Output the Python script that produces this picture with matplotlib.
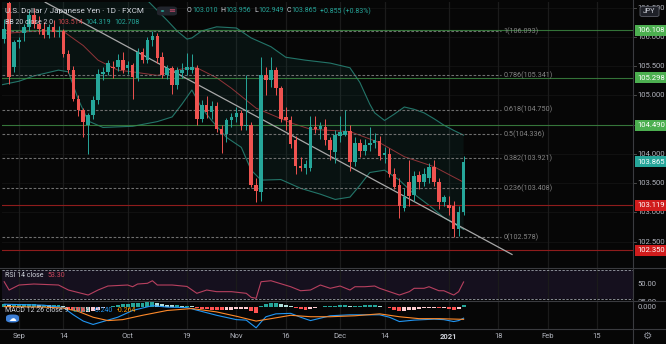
import numpy as np
import matplotlib
matplotlib.use("Agg")
import matplotlib.pyplot as plt
from matplotlib.patches import FancyBboxPatch, Circle
from matplotlib.lines import Line2D
from matplotlib.transforms import blended_transform_factory, Bbox, TransformedBbox

plt.rcParams['font.family'] = ['Roboto', 'DejaVu Sans']

# ---------------- data ----------------
bar_idx = np.arange(-3, 91)

opens = [105.97, 106.57, 105.49, 105.91, 106.06, 106.17, 106.38, 106.22, 106.14, 106.03,
         106.17, 106.08, 106.10, 105.71, 105.43, 104.94, 104.74, 104.49, 104.66, 104.92,
         105.36, 105.40, 105.49, 105.49, 105.61, 105.46, 105.51, 105.29, 105.74, 105.60,
         105.94, 106.01, 105.66, 105.34, 105.46, 105.17, 105.38, 105.43, 105.43, 105.47,
         104.60, 104.83, 104.71, 104.82, 104.43, 104.33, 104.57, 104.63, 104.70, 104.47,
         104.49, 103.46, 103.34, 105.34, 105.26, 105.43, 105.13, 104.63, 104.57, 104.23,
         103.80, 103.75, 103.75, 104.46, 104.43, 104.45, 104.23, 104.03, 104.30, 104.32,
         104.39, 103.86, 104.18, 104.05, 104.15, 104.19, 104.22, 103.98, 104.00, 103.66,
         103.46, 103.08, 103.52, 103.29, 103.63, 103.52, 103.58, 103.77, 103.52, 103.17,
         103.13, 103.10, 102.72, 103.010]
highs = [106.30, 106.62, 105.95, 106.00, 106.22, 106.45, 106.50, 106.35, 106.25, 106.22,
         106.28, 106.18, 106.14, 105.77, 105.50, 105.00, 104.78, 104.70, 104.98, 105.45,
         105.48, 105.60, 105.58, 105.71, 105.74, 105.58, 105.55, 105.80, 105.80, 106.00,
         106.093, 106.06, 105.74, 105.52, 105.50, 105.48, 105.55, 105.72, 105.70, 105.52,
         104.92, 104.98, 104.90, 104.88, 104.50, 104.62, 104.70, 104.80, 104.75, 105.34,
         104.55, 103.58, 105.65, 105.48, 105.66, 105.48, 105.16, 104.80, 104.65, 104.30,
         103.95, 103.90, 104.65, 104.65, 104.55, 104.60, 104.28, 104.40, 104.65, 104.75,
         104.50, 104.28, 104.25, 104.25, 104.45, 104.36, 104.30, 104.12, 104.10, 103.75,
         103.58, 103.42, 103.90, 103.70, 103.70, 103.75, 103.85, 103.90, 103.58, 103.30,
         103.28, 103.20, 103.10, 103.956]
lows = [105.90, 105.20, 105.40, 105.80, 105.92, 106.10, 106.15, 106.05, 105.98, 105.98,
        106.00, 106.00, 105.65, 105.38, 104.90, 104.65, 104.29, 104.00, 104.60, 104.85,
        105.26, 105.35, 105.30, 105.42, 105.38, 105.36, 104.94, 105.25, 105.55, 105.55,
        105.85, 105.55, 105.30, 105.28, 105.03, 105.10, 105.30, 105.35, 105.38, 104.50,
        104.55, 104.62, 104.60, 104.38, 104.02, 104.20, 104.45, 104.55, 104.40, 104.40,
        103.44, 103.18, 103.20, 105.00, 105.15, 105.00, 104.55, 104.40, 104.10, 103.65,
        103.70, 103.65, 103.70, 104.35, 104.25, 104.15, 103.90, 103.85, 104.20, 104.30,
        103.70, 103.80, 103.95, 103.98, 104.05, 104.10, 103.90, 103.85, 103.60, 103.40,
        102.90, 103.02, 103.10, 103.20, 103.40, 103.45, 103.50, 103.45, 103.05, 103.10,
        102.95, 102.578, 102.60, 102.949]
closes = [106.13, 105.31, 105.91, 105.95, 106.17, 106.38, 106.22, 106.14, 106.03, 106.17,
          106.08, 106.10, 105.71, 105.43, 104.94, 104.74, 104.54, 104.66, 104.92, 105.36,
          105.40, 105.55, 105.46, 105.61, 105.43, 105.52, 105.31, 105.74, 105.60, 105.94,
          106.01, 105.64, 105.34, 105.46, 105.17, 105.43, 105.43, 105.48, 105.49, 104.60,
          104.83, 104.72, 104.82, 104.43, 104.33, 104.57, 104.63, 104.70, 104.47, 104.49,
          103.46, 103.36, 105.34, 105.26, 105.43, 105.13, 104.60, 104.57, 104.17, 103.80,
          103.75, 103.82, 104.46, 104.43, 104.47, 104.23, 104.06, 104.32, 104.37, 104.39,
          103.86, 104.18, 104.05, 104.15, 104.19, 104.24, 103.97, 104.01, 103.66, 103.43,
          103.10, 103.27, 103.28, 103.62, 103.52, 103.66, 103.77, 103.52, 103.17, 103.26,
          103.08, 102.72, 103.01, 103.865]

# Bollinger Bands (20, 2)
bb_upper_idx = [-4, 5, 12, 18, 23, 26, 28, 30, 32, 34, 35, 37, 40, 44, 47, 51, 54, 58, 63,
                67, 69, 71, 72, 74, 76, 78, 80, 82, 84, 86, 88, 90]
bb_upper = [106.98, 107.00, 106.95, 106.85, 106.72, 106.62, 106.45, 106.28, 106.10, 105.96,
            105.98, 106.10, 106.17, 106.15, 105.98, 105.83, 105.65, 105.60, 105.55, 105.47,
            105.22, 104.85, 104.70, 104.57, 104.68, 104.80, 104.76, 104.70, 104.60, 104.49,
            104.40, 104.319]
bb_basis_idx = [-4, 4, 9, 13, 16, 20, 23, 28, 33, 36, 40, 43, 48, 55, 59, 63, 67, 73, 78, 84, 90]
bb_basis = [106.05, 106.10, 106.09, 105.85, 105.60, 105.43, 105.40, 105.34, 105.45, 105.47,
            105.30, 105.12, 104.78, 104.53, 104.42, 104.40, 104.38, 104.19, 103.95, 103.78,
            103.514]
bb_lower_idx = [-4, 0, 3, 8, 10, 12, 14, 17, 23, 28, 31, 33, 35, 37, 39, 42, 45, 47, 49, 53,
                57, 61, 64, 67, 69, 71, 74, 77, 80, 83, 86, 90]
bb_lower = [105.17, 105.24, 105.33, 105.43, 105.40, 104.93, 104.56, 104.45, 104.47, 104.55,
            104.63, 104.85, 105.09, 104.78, 104.57, 104.28, 104.11, 103.72, 103.55, 103.56,
            103.41, 103.31, 103.22, 103.26, 103.46, 103.68, 103.72, 103.55, 103.31, 103.12,
            102.91, 102.708]

# Fibonacci retracement levels
fib_ratios = ['1', '0.786', '0.618', '0.5', '0.382', '0.236', '0']
fib_levels = [106.093, 105.341, 104.750, 104.336, 103.921, 103.408, 102.578]
fib_end = 97.5

# Horizontal support / resistance lines
green_levels = [106.108, 105.298, 104.490]
red_levels = [103.119, 102.350]

# Descending trendline anchors (bar index, price)
trend_x = [5.3, 99.8]
trend_y = [106.59, 102.28]

# RSI 14
rsi_idx = [-3, -2, 0, 3, 8, 10, 14, 16, 18, 22, 23, 24, 26, 27, 28, 31, 34, 36, 38, 40,
           43, 46, 47, 48, 49, 51, 55, 57, 59, 61, 63, 65, 67, 68, 70, 72, 73, 75, 77, 79,
           80, 82, 83, 85, 86, 88, 89, 90]
rsi_val = [53.6, 42.0, 49.0, 50.4, 49.0, 42.0, 35.0, 42.0, 47.6, 49.0, 46.6, 50.4, 51.4,
           55.0, 49.0, 49.0, 47.0, 37.4, 42.0, 39.7, 39.7, 37.4, 31.8, 30.4, 53.6, 55.0,
           46.6, 41.0, 42.0, 49.0, 44.4, 47.6, 42.0, 46.6, 46.6, 47.6, 44.4, 39.7, 35.0,
           39.7, 44.4, 44.4, 46.6, 41.0, 41.0, 35.0, 39.7, 53.3]

# MACD 12 26 9
macd_idx = [-3, 5, 9, 11, 13, 15, 17, 20, 23, 27, 30, 34, 37, 40, 44, 46, 48, 49, 50, 52,
            55, 57, 59, 61, 63, 67, 70, 73, 75, 77, 80, 84, 86, 88, 89, 90]
macd_val = [0.05, 0.03, -0.02, -0.17, -0.30, -0.37, -0.31, -0.22, -0.08, 0.02, -0.01, -0.02,
            -0.10, -0.18, -0.27, -0.28, -0.44, -0.32, -0.21, -0.15, -0.14, -0.22, -0.29,
            -0.24, -0.19, -0.17, -0.17, -0.17, -0.22, -0.31, -0.28, -0.26, -0.27, -0.31,
            -0.29, -0.240]
signal_idx = [-3, 5, 9, 12, 15, 18, 21, 25, 30, 35, 40, 44, 48, 51, 55, 59, 63, 68, 73, 77,
              81, 85, 90]
signal_val = [0.0, -0.01, -0.03, -0.10, -0.22, -0.29, -0.27, -0.18, -0.08, -0.04, -0.11,
              -0.20, -0.30, -0.25, -0.18, -0.21, -0.21, -0.19, -0.15, -0.21, -0.25, -0.25,
              -0.264]
hist_val = [0.05, 0.04, 0.04, 0.05, 0.05, 0.05, 0.05, 0.04, 0.04, 0.03,
            0.03, 0.03, 0.01, -0.04, -0.07, -0.09, -0.11, -0.11, -0.09, -0.06,
            -0.03, -0.01, 0.02, 0.04, 0.05, 0.06, 0.07, 0.08, 0.08, 0.09,
            0.09, 0.07, 0.05, 0.04, 0.03, 0.03, 0.02, 0.02, 0.01, -0.03,
            -0.04, -0.05, -0.06, -0.07, -0.08, -0.07, -0.06, -0.05, -0.04, -0.04,
            -0.09, -0.13, 0.02, 0.06, 0.08, 0.08, 0.06, 0.04, 0.01, -0.03,
            -0.05, -0.06, -0.04, -0.02, 0.00, 0.01, 0.02, 0.02, 0.03, 0.03,
            0.02, 0.02, 0.02, 0.03, 0.03, 0.03, 0.02, 0.00, -0.03, -0.06,
            -0.09, -0.09, -0.08, -0.06, -0.04, -0.03, -0.02, -0.02, -0.03, -0.03,
            -0.04, -0.06, -0.04, 0.024]

# Time axis
time_tick_idx = [0, 9, 22, 34, 44, 54, 65, 74, 87, 97, 107, 117]
time_tick_lbl = ['Sep', '14', 'Oct', '19', 'Nov', '16', 'Dec', '14', '2021', '18', 'Feb', '15']
price_ticks = [102.5, 103.0, 103.5, 104.0, 104.5, 105.0, 105.5, 106.0, 106.5]

# ---------------- style ----------------
BG = '#060606'
UP = '#26a69a'
DN = '#ef5350'
TXT = '#d1d4dc'
AXT = '#b2b5be'
GRID = '#1b1b1b'
SEP = '#3a3b3f'
FS = 5.5
LFS = 5.0

W, H = 666, 344
fig = plt.figure(figsize=(W / 100, H / 100), dpi=100, facecolor=BG)


def fx(px):
    return px / W


def fy(py):
    return 1 - py / H


X0, X1 = 2, 633
XL = ((X0 - 19) / 4.94, (X1 - 19) / 4.94)

ax = fig.add_axes([fx(X0), fy(267.5), fx(X1) - fx(X0), fy(2) - fy(267.5)])
ax_rsi = fig.add_axes([fx(X0), fy(301), fx(X1) - fx(X0), fy(268) - fy(301)])
ax_macd = fig.add_axes([fx(X0), fy(328.5), fx(X1) - fx(X0), fy(301.5) - fy(328.5)])

for a in (ax, ax_rsi, ax_macd):
    a.set_facecolor(BG)
    a.set_xlim(*XL)
    for s in a.spines.values():
        s.set_visible(False)
    a.set_xticks(time_tick_idx)
    a.grid(axis='x', color=GRID, lw=0.9)
    a.tick_params(axis='x', length=0, labelbottom=False)
    a.tick_params(axis='y', left=False, labelleft=False, right=False, labelright=False)
    a.set_axisbelow(True)

# ---------------- main price pane ----------------
ax.set_ylim(102.057, 106.594)
for p in price_ticks:
    ax.axhline(p, color='#101010', lw=0.8, zorder=0)

# Bollinger band fill and lines
poly_x = np.r_[bb_upper_idx, bb_lower_idx[::-1]]
poly_y = np.r_[bb_upper, bb_lower[::-1]]
ax.fill(poly_x, poly_y, color=UP, alpha=0.08, lw=0, zorder=1)
ax.plot(bb_upper_idx, bb_upper, color='#2a8f80', lw=0.8, alpha=0.8, zorder=2)
ax.plot(bb_lower_idx, bb_lower, color='#2a8f80', lw=0.8, alpha=0.8, zorder=2)
ax.plot(bb_basis_idx, bb_basis, color='#a83a3f', lw=0.7, alpha=0.85, zorder=2)

# Fibonacci levels
for r, lv in zip(fib_ratios, fib_levels):
    ax.hlines(lv, XL[0], fib_end, colors='#6f6f6f', lw=0.8, linestyles=(0, (2.4, 1.6)), zorder=2)
    ax.text(fib_end + 0.6, lv, f"{r}({lv:.3f})", color='#858585', fontsize=5.2,
            va='center', ha='left', zorder=3)

# support / resistance lines
for lv in green_levels:
    ax.axhline(lv, color='#3f8f45', lw=0.8, alpha=0.8, zorder=2)
for lv in red_levels:
    ax.axhline(lv, color='#8e1c1c', lw=0.8, zorder=2)

# trendline
ax.plot(trend_x, trend_y, color='#a8a8a8', lw=0.9, zorder=3)

# candles
o = np.array(opens); h = np.array(highs); l = np.array(lows); c = np.array(closes)
up = c >= o
cols = np.where(up, UP, DN)
ax.vlines(bar_idx, l, h, colors=cols, lw=0.7, zorder=4)
body_lo = np.minimum(o, c)
body_h = np.maximum(np.abs(c - o), 0.012)
ax.bar(bar_idx, body_h, bottom=body_lo, width=0.72, color=cols, lw=0, zorder=5)

# ---------------- RSI pane ----------------
ax_rsi.set_ylim(26.64, 72.8)
ax_rsi.axhspan(30, 70, color='#7e57c2', alpha=0.13, lw=0, zorder=0)
for lv in (70, 30):
    ax_rsi.axhline(lv, color='#8a8d96', lw=0.7, linestyle=(0, (2.4, 1.6)), zorder=1)
ax_rsi.plot(rsi_idx, rsi_val, color='#b8405f', lw=0.8, zorder=3)

# ---------------- MACD pane ----------------
ax_macd.set_ylim(-0.454, 0.106)
hv = np.array(hist_val)
prev = np.r_[hv[0], hv[:-1]]
hcols = []
for v, pv in zip(hv, prev):
    if v >= 0:
        hcols.append('#26a69a' if v >= pv else '#b2dfdb')
    else:
        hcols.append('#ffcdd2' if v >= pv else '#ff5252')
ax_macd.bar(bar_idx, hv, width=0.8, color=hcols, lw=0, zorder=2)
ax_macd.plot(macd_idx, macd_val, color='#2196f3', lw=0.8, zorder=3)
ax_macd.plot(signal_idx, signal_val, color='#ff8a2a', lw=0.8, zorder=3)

ax_macd.tick_params(axis='x', labelbottom=True, pad=3.2, labelsize=FS, labelcolor=AXT)
ax_macd.set_xticklabels(time_tick_lbl)
for t in ax_macd.get_xticklabels():
    if t.get_text() == '2021':
        t.set_fontweight('bold')
        t.set_color(TXT)

# ---------------- right price scale ----------------
tr_main = blended_transform_factory(fig.transFigure, ax.transData)
tr_rsi = blended_transform_factory(fig.transFigure, ax_rsi.transData)
tr_macd = blended_transform_factory(fig.transFigure, ax_macd.transData)

for p in price_ticks:
    fig.text(fx(637.5), p, f"{p:.3f}", transform=tr_main, color=AXT, fontsize=FS,
             va='center', ha='left')
    fig.add_artist(Line2D([fx(X1), fx(X1 + 3)], [p, p], transform=tr_main, color='#555', lw=0.6))

boxes = [(106.108, '#4caf50'), (105.298, '#4caf50'), (104.490, '#4caf50'),
         (closes[-1], UP), (103.119, '#d01c1c'), (102.350, '#d01c1c')]
for val, colr in boxes:
    fig.text(fx(637), val, f"{val:.3f}", transform=tr_main, color='white', fontsize=FS,
             va='center', ha='left', zorder=5,
             bbox=dict(boxstyle='square,pad=0.32', fc=colr, ec='none'))

pane_clip_rsi = TransformedBbox(Bbox.from_extents(fx(X1), fy(300.8), 1, fy(268.2)), fig.transFigure)
for v in (75, 50, 25):
    t = fig.text(fx(637.5), v, f"{v:.2f}", transform=tr_rsi, color=AXT, fontsize=FS,
                 va='center', ha='left')
    t.set_clip_on(True)
    t.set_clip_box(pane_clip_rsi)
fig.text(fx(637.5), 0.0, "0.000", transform=tr_macd, color=AXT, fontsize=FS,
         va='center', ha='left')

# currency badge
fig.add_artist(FancyBboxPatch((fx(640), fy(16.5)), fx(19), 10 / H,
                              boxstyle='round,pad=0,rounding_size=0.004',
                              transform=fig.transFigure, fc='#1f2128', ec='#5a5d66', lw=0.6,
                              zorder=6))
fig.text(fx(649.5), fy(11.5), "JPY", color=TXT, fontsize=5.0, ha='center', va='center', zorder=7)

# gear icon
fig.text(fx(648), fy(336), "\u2699", color='#8a8d96', fontsize=7.5, ha='center', va='center',
         family=['DejaVu Sans'])

# pane separators
for yy in (267.8, 301.2, 328.8):
    fig.add_artist(Line2D([0, 1], [fy(yy), fy(yy)], transform=fig.transFigure, color=SEP, lw=0.8))
fig.add_artist(Line2D([fx(X1), fx(X1)], [0, 1], transform=fig.transFigure, color=SEP, lw=0.8))

# ---------------- legends ----------------
renderer = fig.canvas.get_renderer()


def row(px, py, segments, size=LFS):
    """Lay out coloured text segments one after another on a single line."""
    x = fx(px)
    for s, colr, gap in segments:
        x += gap / W
        t = fig.text(x, fy(py), s, color=colr, fontsize=size, ha='left', va='center')
        bb = t.get_window_extent(renderer)
        x += bb.width / fig.bbox.width


row(5, 11, [("U.S. Dollar / Japanese Yen \u00b7 1D \u00b7 FXCM", TXT, 0)], size=5.9)
fig.add_artist(FancyBboxPatch((fx(157), fy(15.5)), fx(20), 9 / H,
                              boxstyle='round,pad=0,rounding_size=0.006',
                              transform=fig.transFigure, fc='#22252d', ec='none'))
fig.add_artist(Circle((fx(162.5), fy(11)), 1.7 / W, transform=fig.transFigure, fc=UP, ec='none'))
fig.text(fx(168.5), fy(11), "\u2261", color='#c04a6a', fontsize=6.0, ha='left', va='center',
         family=['DejaVu Sans'])

chg = closes[-1] - closes[-2]
pct = chg / closes[-2] * 100
row(187, 11, [("O", TXT, 0), (f"{opens[-1]:.3f}", UP, 0.3),
              ("H", TXT, 3), (f"{highs[-1]:.3f}", UP, 0.3),
              ("L", TXT, 3), (f"{lows[-1]:.3f}", UP, 0.3),
              ("C", TXT, 3), (f"{closes[-1]:.3f}", UP, 0.3),
              (f"{chg:+.3f} ({pct:+.2f}%)", UP, 3)])

row(5, 23, [("BB 20 close 2 0", TXT, 0), (f"{bb_basis[-1]:.3f}", '#d0484f', 4),
            (f"{bb_upper[-1]:.3f}", UP, 3), (f"{bb_lower[-1]:.3f}", UP, 3)])

row(5, 275.5, [("RSI 14 close", TXT, 0), (f"{rsi_val[-1]:.2f}", '#d0485f', 4)])

row(5, 311, [("MACD 12 26 close 9", TXT, 0), (f"{hist_val[-1]:.3f}", UP, 4),
             (f"{macd_val[-1]:.3f}", '#2196f3', 4), (f"{signal_val[-1]:.3f}", '#ff9800', 4)])

fig.add_artist(FancyBboxPatch((fx(6), fy(322.5)), fx(13), 8 / H,
                              boxstyle='round,pad=0,rounding_size=0.008',
                              transform=fig.transFigure, fc='#3d7fd6', ec='none'))
fig.text(fx(12.5), fy(318.5), "\u2601", color='white', fontsize=5.5, ha='center', va='center',
         family=['DejaVu Sans'])

fig.savefig("out.png", dpi=100, facecolor=BG)
